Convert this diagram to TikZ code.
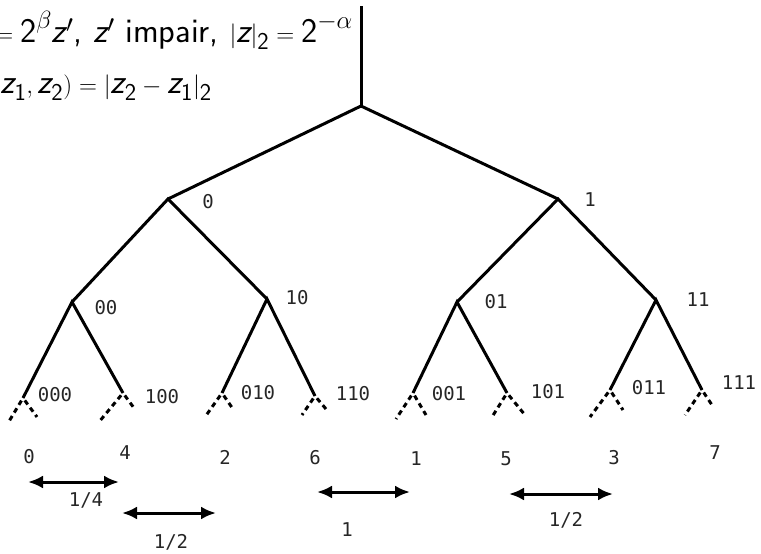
\documentclass[tikz,border=0pt]{standalone}
\usepackage{amsmath}
\usepackage{fontspec}
\setmonofont{DejaVu Sans Mono}
\usetikzlibrary{arrows.meta}
\newcommand{\zi}{\textit{z}}
\begin{document}
\begin{tikzpicture}[x=1pt,y=-1pt,
  edge/.style={line width=3pt, line join=miter},
  leafedge/.style={line width=3pt, dash pattern=on 5pt off 4pt, dash phase=6pt},
  lab/.style={font=\fontsize{19}{21}\selectfont\ttfamily, inner sep=0pt, text=black!85},
  dist/.style={line width=3pt, {Latex[length=15pt,width=13pt]}-{Latex[length=15pt,width=13pt]}},
  formula/.style={font=\fontsize{34.5}{38}\selectfont\sffamily, inner sep=0pt, anchor=base east}]
\clip (0,0) rectangle (761,554);
\useasboundingbox (0,0) rectangle (761,554);
% formulas
\node[formula] (f1) at (353,42) {$\zi = \textsf{2}^{\beta}\zi'$, $\zi'$ impair, $|\zi|_{\textsf{2}} = \textsf{2}^{-\alpha}$};
\node[formula] (f2) at (212,93) {$\textit{d}(\zi_{\textsf{1}}, \zi_{\textsf{2}}) = |\zi_{\textsf{2}} - \zi_{\textsf{1}}|_{\textsf{2}}$};
% tree points
\coordinate (top) at (361,6);
\coordinate (r) at (361,106);
\coordinate (n0) at (168,199);
\coordinate (n1) at (558,199);
\coordinate (n00) at (72,302);
\coordinate (n10) at (267,299);
\coordinate (n01) at (457,302);
\coordinate (n11) at (656,300);
\coordinate (l000) at (23,398);
\coordinate (l100) at (123,393);
\coordinate (l010) at (222,393);
\coordinate (l110) at (315,396);
\coordinate (l001) at (413,393);
\coordinate (l101) at (507,393);
\coordinate (l011) at (610,390);
\coordinate (l111) at (702,390);
% dashed ends
\coordinate (d000L) at (8,423);   \coordinate (d000R) at (37,417);
\coordinate (d100L) at (99,422);  \coordinate (d100R) at (134,408);
\coordinate (d010L) at (205,417); \coordinate (d010R) at (233,409);
\coordinate (d110L) at (302,415); \coordinate (d110R) at (326,409);
\coordinate (d001L) at (396,419); \coordinate (d001R) at (426,415);
\coordinate (d101L) at (492,417); \coordinate (d101R) at (525,415);
\coordinate (d011L) at (590,417); \coordinate (d011R) at (623,410);
\coordinate (d111L) at (685,415); \coordinate (d111R) at (712,405);
% edges
\draw[edge] (top) -- (r);
\draw[edge] (n0) -- (r) -- (n1);
\draw[edge] (n00) -- (n0) -- (n10);
\draw[edge] (n01) -- (n1) -- (n11);
\draw[edge] (l000) -- (n00) -- (l100);
\draw[edge] (l010) -- (n10) -- (l110);
\draw[edge] (l001) -- (n01) -- (l101);
\draw[edge] (l011) -- (n11) -- (l111);
\foreach \l in {000,100,010,110,001,101,011,111}{
  \draw[leafedge] (l\l) -- (d\l L);
  \draw[leafedge] (l\l) -- (d\l R);
}
% labels
\node[lab] (t0) at (208,202) {0};
\node[lab] (t1) at (590,200) {1};
\node[lab] (t00) at (106,308) {00};
\node[lab] (t10) at (297,298) {10};
\node[lab] (t01) at (496,302) {01};
\node[lab] (t11) at (698,300) {11};
\node[lab] (t000) at (55,395) {000};
\node[lab] (t100) at (162,397) {100};
\node[lab] (t010) at (258,393) {010};
\node[lab] (t110) at (353,394) {110};
\node[lab] (t001) at (449,394) {001};
\node[lab] (t101) at (548,392) {101};
\node[lab] (t011) at (649,388) {011};
\node[lab] (t111) at (739,383) {111};
% numbers
\node[lab] (v0) at (29,457) {0};
\node[lab] (v4) at (125,453) {4};
\node[lab] (v2) at (225,457) {2};
\node[lab] (v6) at (315,458) {6};
\node[lab] (v1) at (416,459) {1};
\node[lab] (v5) at (506,459) {5};
\node[lab] (v3) at (614,458) {3};
\node[lab] (v7) at (715,453) {7};
% distances
\coordinate (a1s) at (28,482);  \coordinate (a1e) at (119,482);
\coordinate (a2s) at (122,513); \coordinate (a2e) at (216,513);
\coordinate (a3s) at (317,492); \coordinate (a3e) at (410,492);
\coordinate (a4s) at (509,494); \coordinate (a4e) at (613,494);
\draw[dist] (a1s) -- (a1e);
\draw[dist] (a2s) -- (a2e);
\draw[dist] (a3s) -- (a3e);
\draw[dist] (a4s) -- (a4e);
\node[lab] (d1) at (86,500) {1/4};
\node[lab] (d2) at (171,542) {1/2};
\node[lab] (d3) at (347,530) {1};
\node[lab] (d4) at (566,520) {1/2};
\end{tikzpicture}
\end{document}
